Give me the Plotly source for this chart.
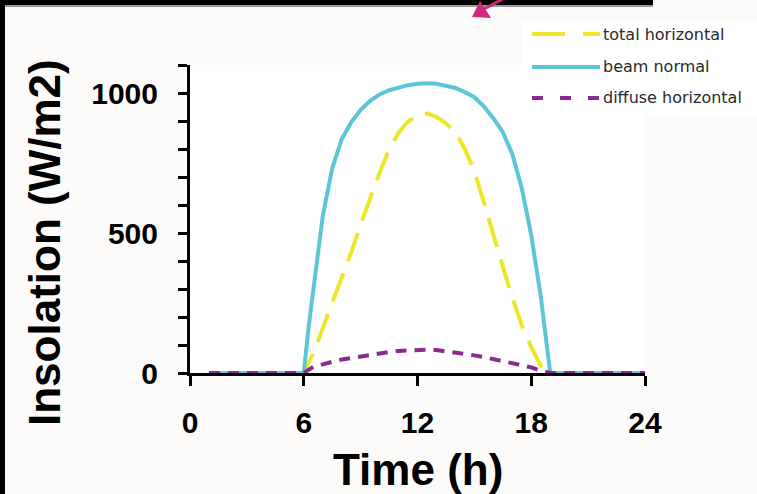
import plotly.graph_objects as go

# Insolation profiles over the day (W/m2), sampled every half hour while the sun is up
hours_total = [1, 2, 3, 4, 5, 6, 6.5, 7, 7.5, 8, 8.5, 9, 9.5, 10, 10.5, 11, 11.5, 12, 12.5,
               13, 13.5, 14, 14.5, 15, 15.5, 16, 16.5, 17, 17.5, 18, 18.5, 18.7, 19, 20,
               21, 22, 23, 24]
total_horizontal = [0, 0, 0, 0, 0, 0, 70, 160, 245, 335, 430, 530, 625, 715, 798, 858, 898,
                    920, 927, 915, 892, 860, 800, 720, 610, 490, 380, 270, 170, 92, 25, 0,
                    0, 0, 0, 0, 0, 0]

hours_beam = [1, 2, 3, 4, 5, 6, 6.25, 6.5, 6.75, 7, 7.5, 8, 8.5, 9, 9.5, 10, 10.5, 11,
              11.5, 12, 12.5, 13, 13.5, 14, 14.5, 15, 15.5, 16, 16.5, 17, 17.5, 18, 18.5,
              18.75, 19, 20, 21, 22, 23, 24]
beam_normal = [0, 0, 0, 0, 0, 0, 160, 300, 440, 560, 730, 835, 895, 940, 972, 995, 1010,
               1020, 1028, 1033, 1035, 1033, 1027, 1018, 1003, 985, 952, 910, 860, 782,
               660, 492, 275, 140, 0, 0, 0, 0, 0, 0]

hours_diffuse = [1, 2, 3, 4, 5, 6, 6.5, 7, 7.5, 8, 8.5, 9, 9.5, 10, 10.5, 11, 11.5, 12,
                 12.5, 13, 13.5, 14, 14.5, 15, 15.5, 16, 16.5, 17, 17.5, 18, 18.5, 19, 20,
                 21, 22, 23, 24]
diffuse_horizontal = [0, 0, 0, 0, 0, 0, 22, 32, 40, 48, 54, 60, 66, 71, 75, 79, 81, 83, 83,
                      82, 78, 74, 69, 63, 57, 50, 44, 37, 29, 20, 8, 0, 0, 0, 0, 0, 0]

series_names = ["total horizontal", "beam normal", "diffuse horizontal"]
x_ticks = [0, 6, 12, 18, 24]
y_ticks = [0, 100, 200, 300, 400, 500, 600, 700, 800, 900, 1000, 1100]
y_tick_labels = ["0", "", "", "", "", "500", "", "", "", "", "1000", ""]

W, H = 757, 494
ML, MR, MT, MB = 190, 112, 65, 121


def fx(x):
    return (x - ML) / (W - ML - MR)


def fy(y):
    return (H - MB - y) / (H - MT - MB)


YELLOW = "#ece72c"
CYAN = "#5cc6d4"
PURPLE = "#8a2b8f"
styles = [
    dict(color=YELLOW, width=4, dash="30px,13px"),
    dict(color=CYAN, width=4, dash="solid"),
    dict(color=PURPLE, width=4, dash="11px,8px"),
]
series = [(hours_total, total_horizontal), (hours_beam, beam_normal),
          (hours_diffuse, diffuse_horizontal)]

fig = go.Figure()
for (hx, vals), name, st in zip(series, series_names, styles):
    fig.add_trace(go.Scatter(x=hx, y=vals, name=name, mode="lines",
                             line=dict(shape="linear", **st),
                             cliponaxis=False, showlegend=False))

tick_font = dict(family="Liberation Sans, Arial, sans-serif", size=30, color="black",
                 weight="bold")
axis_common = dict(showline=True, linewidth=3, linecolor="black", ticks="outside",
                   tickwidth=3, tickcolor="black", showgrid=False, zeroline=False,
                   tickfont=tick_font, layer="below traces", fixedrange=True)

fig.update_xaxes(range=[0, 24], tickvals=x_ticks, ticklen=10, ticklabelstandoff=11,
                 **axis_common)
fig.update_yaxes(range=[0, 1100], tickvals=y_ticks, ticktext=y_tick_labels, ticklen=9,
                 ticklabelstandoff=14, **axis_common)

shapes = []
annotations = []

# slide border fragments
shapes.append(dict(type="rect", xref="paper", yref="paper", x0=fx(0), x1=fx(653),
                   y0=fy(0), y1=fy(5), fillcolor="black", line_width=0, layer="above"))
shapes.append(dict(type="rect", xref="paper", yref="paper", x0=fx(0), x1=fx(653),
                   y0=fy(5), y1=fy(7), fillcolor="#9a9a9a", line_width=0, layer="above"))
shapes.append(dict(type="rect", xref="paper", yref="paper", x0=fx(0), x1=fx(5),
                   y0=fy(0), y1=fy(H), fillcolor="black", line_width=0, layer="above"))

# pointer arrow
shapes.append(dict(type="line", xref="paper", yref="paper", x0=fx(484), y0=fy(9),
                   x1=fx(512), y1=fy(-6), line=dict(color="#cf2a7c", width=3),
                   layer="above"))
shapes.append(dict(type="path", xref="paper", yref="paper",
                   path=f"M {fx(472)} {fy(17)} L {fx(491)} {fy(18)} L {fx(480)} {fy(1)} Z",
                   fillcolor="#cf2a7c", line_width=0, layer="above"))

# legend
shapes.append(dict(type="rect", xref="paper", yref="paper", x0=fx(522), x1=fx(757),
                   y0=fy(22), y1=fy(115), fillcolor="white", line_width=0, layer="below"))
legend_y = [34, 67, 98]
legend_dash = ["33px,18px", "solid", "11px,17px"]
for name, st, ly, dsh in zip(series_names, styles, legend_y, legend_dash):
    shapes.append(dict(type="line", xref="paper", yref="paper", x0=fx(532), x1=fx(600),
                       y0=fy(ly), y1=fy(ly),
                       line=dict(color=st["color"], width=4, dash=dsh), layer="above"))
    annotations.append(dict(text=name, xref="paper", yref="paper", x=fx(601), y=fy(ly),
                            xanchor="left", yanchor="middle", showarrow=False,
                            font=dict(family="DejaVu Sans", size=16, color="#2a2a2a")))

# axis titles
title_font = dict(family="Liberation Sans, Arial, sans-serif", size=44, color="black",
                  weight="bold")
annotations.append(dict(text="Time (h)", xref="paper", yref="paper", x=fx(418), y=fy(469),
                        xanchor="center", yanchor="middle", showarrow=False,
                        font=title_font))
annotations.append(dict(text="Insolation (W/m2)", xref="paper", yref="paper", x=fx(44),
                        y=fy(243), xanchor="center", yanchor="middle", showarrow=False,
                        textangle=-90, font=title_font))

fig.update_layout(width=W, height=H, autosize=False,
                  margin=dict(l=ML, r=MR, t=MT, b=MB, pad=0),
                  paper_bgcolor="#fcfbf9", plot_bgcolor="white",
                  shapes=shapes, annotations=annotations, showlegend=False)

fig.write_html("out.html", config={"displayModeBar": False})
